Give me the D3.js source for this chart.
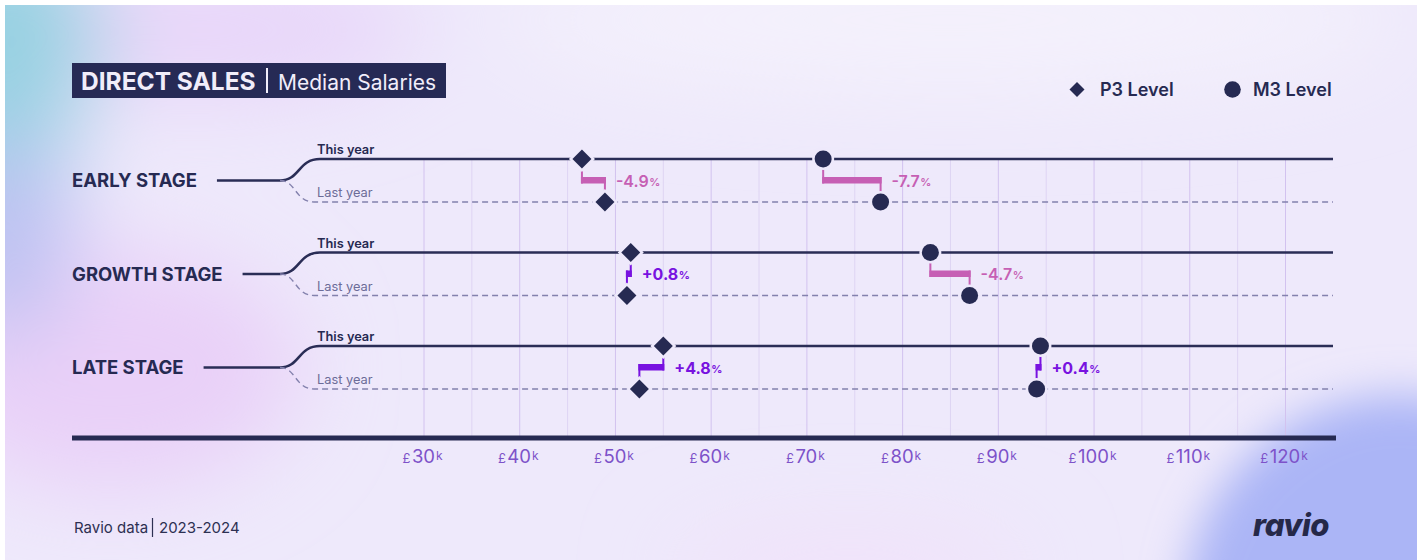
<!DOCTYPE html>
<html>
<head>
<meta charset="utf-8">
<script src="https://cdn.jsdelivr.net/npm/d3@7"></script>
<style>
  html, body { margin: 0; padding: 0; background: #ffffff; }
  svg { display: block; font-family: Inter, "Noto Sans", sans-serif; }
</style>
</head>
<body>
<svg id="chart" width="1417" height="560"></svg>
<script>
// Median salaries (thousand GBP) by company stage
const stages = ["EARLY STAGE", "GROWTH STAGE", "LATE STAGE"];
const p3ThisYear = [46.5, 51.6, 55.0];
const p3LastYear = [48.9, 51.2, 52.5];
const p3Change   = [-4.9, 0.8, 4.8];
const m3ThisYear = [71.7, 82.9, 94.4];
const m3LastYear = [77.7, 87.0, 94.0];
const m3Change   = [-7.7, -4.7, 0.4];
const tickValues = [30, 40, 50, 60, 70, 80, 90, 100, 110, 120];
const legendLabels = ["P3 Level", "M3 Level"];

const W = 1417, H = 560;
const navy = "#262a52";
const bg = "#eee9fb";
const negColor = "#c65fb4";
const posColor = "#7812e0";
const tickColor = "#7d52c9";

const svg = d3.select("#chart");
const defs = svg.append("defs");

// ---------- background ----------
defs.append("clipPath").attr("id", "panel")
  .append("rect").attr("x", 5).attr("y", 5).attr("width", W - 5).attr("height", H - 5);
defs.append("filter").attr("id", "glow").attr("x", "-50%").attr("y", "-50%").attr("width", "200%").attr("height", "200%")
  .append("feGaussianBlur").attr("stdDeviation", 45);
defs.append("filter").attr("id", "soft").attr("x", "-50%").attr("y", "-50%").attr("width", "200%").attr("height", "200%")
  .append("feGaussianBlur").attr("stdDeviation", 22);

const bgG = svg.append("g").attr("clip-path", "url(#panel)");
bgG.append("rect").attr("x", 0).attr("y", 0).attr("width", W).attr("height", H).attr("fill", bg);
const glow = bgG.append("g").attr("filter", "url(#glow)");
glow.append("ellipse").attr("cx", 950).attr("cy", 20).attr("rx", 450).attr("ry", 70).attr("fill", "#f4f1fc");
glow.append("ellipse").attr("cx", 200).attr("cy", 30).attr("rx", 220).attr("ry", 70).attr("fill", "#e8d6f9");
glow.append("ellipse").attr("cx", 110).attr("cy", 370).attr("rx", 190).attr("ry", 120).attr("fill", "#e9d0f8");
glow.append("ellipse").attr("cx", 0).attr("cy", 210).attr("rx", 70).attr("ry", 130).attr("fill", "#b9c0f1");
glow.append("ellipse").attr("cx", 0).attr("cy", 40).attr("rx", 100).attr("ry", 120).attr("fill", "#97d1e2");
glow.append("ellipse").attr("cx", 850).attr("cy", 570).attr("rx", 180).attr("ry", 40).attr("fill", "#f1e1f9");
bgG.append("circle").attr("cx", 1400).attr("cy", 610).attr("r", 215).attr("fill", "#abb5f6").attr("filter", "url(#soft)");

// ---------- scales ----------
const x = d3.scaleLinear().domain([30, 120]).range([424, 1285.5]);
const y = d3.scalePoint().domain(stages).range([180.5, 367.5]);
const off = 21.5;
const lineEnd = 1333;

// ---------- grid ----------
const gridTop = 158, axisY = 438;
const gridVals = d3.range(30, 121, 5);
svg.append("g").selectAll("line").data(gridVals).join("line")
  .attr("x1", d => x(d)).attr("x2", d => x(d))
  .attr("y1", gridTop).attr("y2", axisY)
  .attr("stroke", d => d % 10 === 0 ? "#d2c2ef" : "#ded4f3")
  .attr("stroke-width", 1);

// ---------- rows ----------
const rows = svg.append("g");
stages.forEach((s, i) => {
  const m = y(s), ty = m - off, ly = m + off;
  const g = rows.append("g");
  const lab = g.append("text").attr("x", 72).attr("y", m + 6.5)
    .attr("font-size", 18.5).attr("font-weight", 700).attr("fill", navy).text(s);
  const start = 72 + lab.node().getComputedTextLength() + 20;

  g.append("path")
    .attr("d", `M${start},${m} H280 C300,${m} 298,${ty} 320,${ty} H${lineEnd}`)
    .attr("fill", "none").attr("stroke", "#2a2d56").attr("stroke-width", 2.6);
  g.append("path")
    .attr("d", `M280,${m} C296,${m} 295,${ly} 314,${ly} H${lineEnd}`)
    .attr("fill", "none").attr("stroke", "#8381ad").attr("stroke-width", 1.4)
    .attr("stroke-dasharray", "6 4");

  g.append("text").attr("x", 317).attr("y", ty - 5)
    .attr("font-size", 12.8).attr("font-weight", 600).attr("fill", navy).text("This year");
  g.append("text").attr("x", 317).attr("y", ly - 5)
    .attr("font-size", 12.8).attr("font-weight", 400).attr("fill", "#6c6c98").text("Last year");
});

// ---------- change connectors ----------
function connector(thisV, lastV, change, i) {
  const m = y(stages[i]), ty = m - off, ly = m + off;
  const xt = x(thisV), xl = x(lastV);
  const col = change < 0 ? negColor : posColor;
  const g = rows.append("g");
  g.append("line").attr("x1", xt).attr("x2", xt).attr("y1", ty + 9).attr("y2", m + 3)
    .attr("stroke", col).attr("stroke-width", 2);
  g.append("rect").attr("x", Math.min(xt, xl) - 1).attr("y", m - 3.5)
    .attr("width", Math.abs(xt - xl) + 2).attr("height", 6.5).attr("fill", col);
  g.append("line").attr("x1", xl).attr("x2", xl).attr("y1", m - 3.5).attr("y2", ly - 9)
    .attr("stroke", col).attr("stroke-width", 2);
  const t = g.append("text").attr("x", Math.max(xt, xl) + 11).attr("y", m + 6)
    .attr("fill", col).attr("font-weight", change < 0 ? 600 : 700);
  t.append("tspan").attr("font-size", 16).text((change < 0 ? "-" : "+") + Math.abs(change).toFixed(1));
  t.append("tspan").attr("font-size", 11).attr("dx", 0.5).attr("dy", -1).text("%");
}
stages.forEach((s, i) => {
  connector(p3ThisYear[i], p3LastYear[i], p3Change[i], i);
  connector(m3ThisYear[i], m3LastYear[i], m3Change[i], i);
});

// ---------- markers ----------
const diamond = r => `M0,${-r} L${r},0 L0,${r} L${-r},0 Z`;
function markers(vals, yOff, kind) {
  const g = rows.append("g");
  const sel = g.selectAll(kind === "d" ? "path" : "circle").data(vals).join(kind === "d" ? "path" : "circle")
    .attr("fill", navy).attr("stroke", bg).attr("stroke-width", 5)
    .style("paint-order", "stroke");
  if (kind === "d") {
    sel.attr("d", diamond(9.5))
      .attr("transform", (d, i) => `translate(${x(d)},${y(stages[i]) + yOff})`);
  } else {
    sel.attr("r", 8.5).attr("cx", d => x(d)).attr("cy", (d, i) => y(stages[i]) + yOff);
  }
}
markers(p3LastYear, off, "d");
markers(p3ThisYear, -off, "d");
markers(m3LastYear, off, "c");
markers(m3ThisYear, -off, "c");

// ---------- x axis ----------
svg.append("line").attr("x1", 72).attr("x2", 1336).attr("y1", axisY).attr("y2", axisY)
  .attr("stroke", navy).attr("stroke-width", 5);
const axisG = svg.append("g").attr("transform", `translate(0,${axisY})`)
  .call(d3.axisBottom(x).tickValues(tickValues).tickSize(0).tickFormat(d => d));
axisG.select(".domain").remove();
axisG.selectAll(".tick text").each(function (d) {
  const t = d3.select(this);
  t.text(null).attr("y", 25).attr("dy", null).attr("x", -2)
    .attr("fill", tickColor).attr("font-family", "Inter, 'Noto Sans', sans-serif").attr("text-anchor", "middle");
  t.append("tspan").attr("font-size", 13).text("£");
  t.append("tspan").attr("font-size", 18.5).attr("dx", 1.5).text(d);
  t.append("tspan").attr("font-size", 12).attr("dx", 1).attr("dy", -3).text("k");
});

// ---------- title ----------
svg.append("rect").attr("x", 72).attr("y", 63).attr("width", 374).attr("height", 35).attr("fill", "#262a55");
svg.append("text").attr("x", 81).attr("y", 90).attr("font-size", 24.5).attr("font-weight", 700)
  .attr("fill", "#f1edfa").text("DIRECT SALES");
svg.append("line").attr("x1", 267).attr("x2", 267).attr("y1", 68).attr("y2", 93)
  .attr("stroke", "#f1edfa").attr("stroke-width", 2);
svg.append("text").attr("x", 278).attr("y", 90).attr("font-size", 21).attr("font-weight", 400)
  .attr("fill", "#f1edfa").text("Median Salaries");

// ---------- legend ----------
const leg = svg.append("g");
leg.append("path").attr("d", diamond(7.5)).attr("transform", "translate(1077,89.5)").attr("fill", navy);
leg.append("text").attr("x", 1100).attr("y", 96).attr("font-size", 18).attr("font-weight", 600)
  .attr("fill", navy).text(legendLabels[0]);
leg.append("circle").attr("cx", 1232.5).attr("cy", 89.5).attr("r", 8.3).attr("fill", navy);
leg.append("text").attr("x", 1253).attr("y", 96).attr("font-size", 18).attr("font-weight", 600)
  .attr("fill", navy).text(legendLabels[1]);

// ---------- footer ----------
svg.append("text").attr("x", 74).attr("y", 533).attr("font-size", 15).attr("fill", "#2d3052").text("Ravio data");
svg.append("line").attr("x1", 152.5).attr("x2", 152.5).attr("y1", 518).attr("y2", 537)
  .attr("stroke", "#2d3052").attr("stroke-width", 1.2);
svg.append("text").attr("x", 159).attr("y", 533).attr("font-size", 15).attr("fill", "#2d3052").text("2023-2024");
svg.append("text").attr("x", 1253).attr("y", 536).attr("font-size", 31).attr("font-weight", 800)
  .attr("font-style", "italic").attr("letter-spacing", -0.5).attr("fill", "#252848").text("ravio");
</script>
</body>
</html>
